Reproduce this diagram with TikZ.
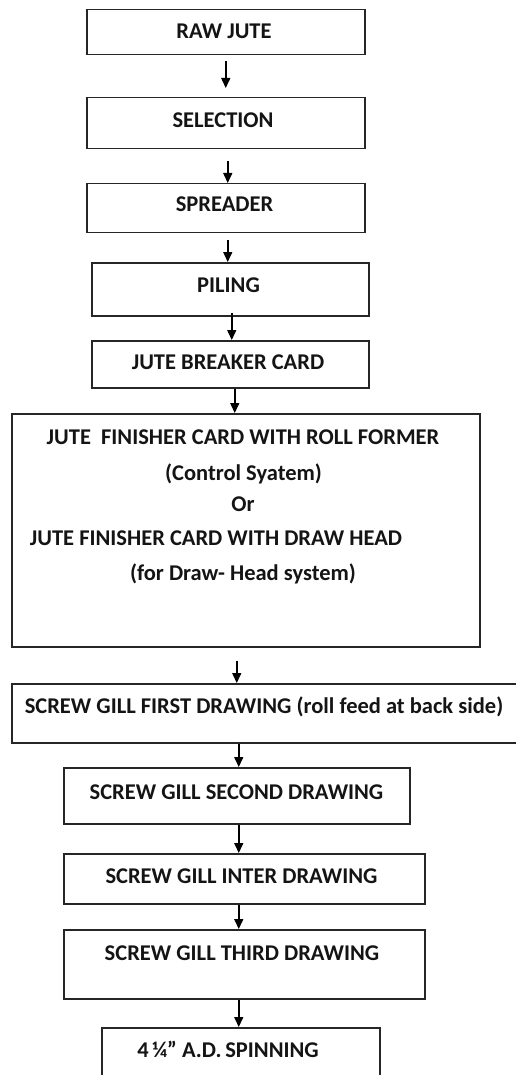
\documentclass[tikz,border=0pt]{standalone}
\usepackage{fontspec}
\setmainfont{Carlito}
\usetikzlibrary{arrows.meta}
\begin{document}
\begin{tikzpicture}[x=1pt,y=-1pt,
  box/.style={draw=black!85, line width=1.5pt, inner sep=0pt, anchor=north west},
  txt/.style={font=\fontsize{22.5}{26}\selectfont\bfseries, inner sep=0pt, anchor=base, text=black!92},
  arr/.style={draw=black, line width=1.5pt, -{Triangle[length=10pt,width=9pt]}}]
\useasboundingbox (0,0) rectangle (516,1075);
\clip (0,0) rectangle (516,1075);
% boxes
\node[box, minimum width=278pt, minimum height=45pt] (raw) at (86,9) {};
\node[box, minimum width=278pt, minimum height=51pt] (sel) at (86,97) {};
\node[box, minimum width=278pt, minimum height=49pt] (spr) at (86,183) {};
\node[box, minimum width=277pt, minimum height=53pt] (pil) at (91,262) {};
\node[box, minimum width=277pt, minimum height=47pt] (jbc) at (91,340) {};
\node[box, minimum width=468pt, minimum height=233pt] (big) at (11,413) {};
\node[box, minimum width=511pt, minimum height=59pt] (first) at (11,683) {};
\node[box, minimum width=346pt, minimum height=56pt] (sec) at (63,767) {};
\node[box, minimum width=361pt, minimum height=50pt] (int) at (63,853) {};
\node[box, minimum width=361pt, minimum height=69pt] (thr) at (63,929) {};
\node[box, minimum width=278pt, minimum height=80pt] (spin) at (101,1027) {};
% texts
\node[txt] (traw) at (224,38.5) {RAW JUTE};
\node[txt] (tsel) at (223,127.5) {SELECTION};
\node[txt] (tspr) at (224.5,211.5) {SPREADER};
\node[txt] (tpil) at (228.5,292.5) {PILING};
\node[txt] (tjbc) at (228,369.5) {JUTE BREAKER CARD};
\node[txt] (tb1) at (243,444.5) {JUTE\ \ FINISHER CARD WITH ROLL FORMER};
\node[txt] (tb2) at (243.5,480.5) {(Control Syatem)};
\node[txt] (tb3) at (243,511.5) {Or};
\node[txt] (tb4) at (216,545.5) {JUTE FINISHER CARD WITH DRAW HEAD};
\node[txt] (tb5) at (243,580.5) {(for Draw- Head system)};
\node[txt] (tfirst) at (264,713.5) {SCREW GILL FIRST DRAWING (roll feed at back side)};
\node[txt] (tsec) at (236.5,799.5) {SCREW GILL SECOND DRAWING};
\node[txt] (tint) at (241.5,883.5) {SCREW GILL INTER DRAWING};
\node[txt] (tthr) at (242,960.5) {SCREW GILL THIRD DRAWING};
\node[txt] (tspin) at (228,1057.5) {4\,¼” A.D.\,SPINNING};
% arrows
\draw[arr] ([yshift=-6pt]raw.south) -- ([yshift=9pt]sel.north);
\draw[arr] ([xshift=2pt,yshift=-12pt]sel.south) -- ([xshift=2pt]spr.north);
\draw[arr] ([xshift=2pt,yshift=-7pt]spr.south) -- ([xshift=-2.5pt]pil.north);
\draw[arr] ([xshift=1.5pt,yshift=4pt]pil.south) -- ([xshift=1.5pt]jbc.north);
\draw[arr] ([xshift=4.5pt]jbc.south) -- ([xshift=-11pt]big.north);
\draw[arr] ([xshift=-9pt,yshift=-13pt]big.south) -- ([xshift=-30.5pt]first.north);
\draw[arr] ([xshift=-28.5pt]first.south) -- ([xshift=2pt]sec.north);
\draw[arr] ([xshift=2pt]sec.south) -- ([xshift=-5.5pt]int.north);
\draw[arr] ([xshift=-5.5pt]int.south) -- ([xshift=-5.5pt]thr.north);
\draw[arr] ([xshift=-5.5pt]thr.south) -- ([xshift=-2pt]spin.north);
\end{tikzpicture}
\end{document}
